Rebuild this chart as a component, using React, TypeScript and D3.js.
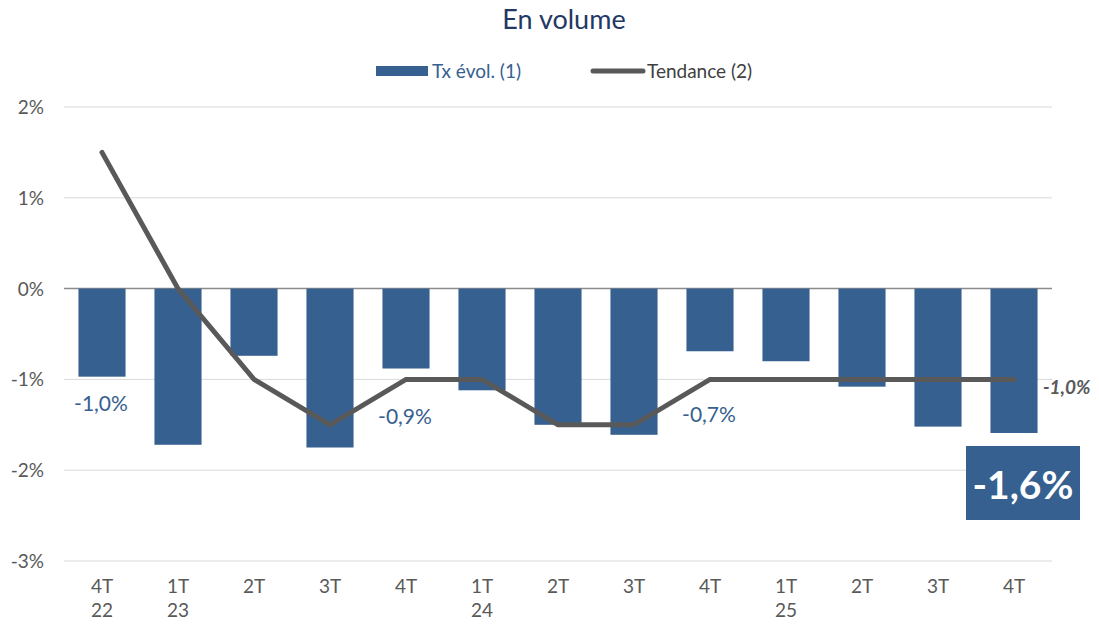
import React from "react";
import * as d3 from "d3";

const categories = ["4T\n22", "1T\n23", "2T", "3T", "4T", "1T\n24", "2T", "3T", "4T", "1T\n25", "2T", "3T", "4T"];
const txEvol = [-0.97, -1.72, -0.74, -1.75, -0.88, -1.12, -1.5, -1.61, -0.69, -0.8, -1.08, -1.52, -1.59];
const tendance = [1.5, 0, -1, -1.5, -1, -1, -1.5, -1.5, -1, -1, -1, -1, -1];
const yTicks = [2, 1, 0, -1, -2, -3];
const barLabels: { i: number; text: string; dy: number }[] = [
  { i: 0, text: "-1,0%", dy: 34 },
  { i: 4, text: "-0,9%", dy: 55 },
  { i: 8, text: "-0,7%", dy: 71 },
];
const lastTrendLabel = "-1,0%";
const lastBarLabel = "-1,6%";

const W = 1099;
const H = 625;
const BLUE = "#36608F";
const GREY = "#595959";
const FONT = "Lato, 'Open Sans', sans-serif";

export default function App() {
  const x = d3.scaleBand<number>().domain(d3.range(categories.length)).range([64, 1052]).paddingInner(0.38).paddingOuter(0.19);
  const y = d3.scaleLinear().domain([-3, 2]).range([561, 107]);
  const cx = (i: number) => (x(i) as number) + x.bandwidth() / 2;
  const line = d3
    .line<number>()
    .x((_, i) => cx(i))
    .y((d) => y(d));
  const last = categories.length - 1;

  return (
    <svg width={W} height={H} style={{ position: "absolute", left: 0, top: 0, fontFamily: FONT }}>
      <rect width={W} height={H} fill="#fff" />
      <text x={564} y={29} textAnchor="middle" fontSize={27} fill="#1F3864">En volume</text>
      {/* legend */}
      <rect x={376} y={66} width={52} height={10} fill={BLUE} />
      <text x={432} y={78} fontSize={19} fill={BLUE}>Tx évol. (1)</text>
      <line x1={593} x2={643} y1={71} y2={71} stroke={GREY} strokeWidth={5} strokeLinecap="round" />
      <text x={647} y={78} fontSize={19} fill="#404040">Tendance (2)</text>
      {/* grid */}
      {yTicks.map((t) => (
        <g key={t}>
          <line x1={64} x2={1052} y1={y(t)} y2={y(t)} stroke={t === 0 ? "#8C8C8C" : "#D9D9D9"} strokeWidth={t === 0 ? 1.5 : 1} />
          <text x={44} y={y(t) + 7} textAnchor="end" fontSize={19} fill={GREY}>{`${t}%`}</text>
        </g>
      ))}
      {/* bars */}
      {txEvol.map((v, i) => (
        <rect key={i} x={x(i)} y={y(0)} width={x.bandwidth()} height={y(v) - y(0)} fill={BLUE} />
      ))}
      {/* trend */}
      <path d={line(tendance) || ""} fill="none" stroke={GREY} strokeWidth={5} strokeLinejoin="miter" strokeLinecap="round" />
      {/* x labels */}
      {categories.map((c, i) => (
        <text key={i} x={cx(i)} y={593} textAnchor="middle" fontSize={19} fill={GREY}>
          {c.split("\n").map((s, k) => (
            <tspan key={k} x={cx(i)} dy={k === 0 ? 0 : 24}>{s}</tspan>
          ))}
        </text>
      ))}
      {/* bar labels */}
      {barLabels.map((b) => (
        <text key={b.i} x={cx(b.i) - 1} y={y(txEvol[b.i]) + b.dy} textAnchor="middle" fontSize={21} fill={BLUE}>
          {b.text}
        </text>
      ))}
      <text x={1043} y={y(tendance[last]) + 15} fontSize={19} fontWeight="bold" fontStyle="italic" fill={GREY}>{lastTrendLabel}</text>
      <rect x={966} y={446} width={114} height={74} fill={BLUE} />
      <text x={1023} y={499} textAnchor="middle" fontSize={39} fontWeight="bold" fill="#fff">{lastBarLabel}</text>
    </svg>
  );
}
